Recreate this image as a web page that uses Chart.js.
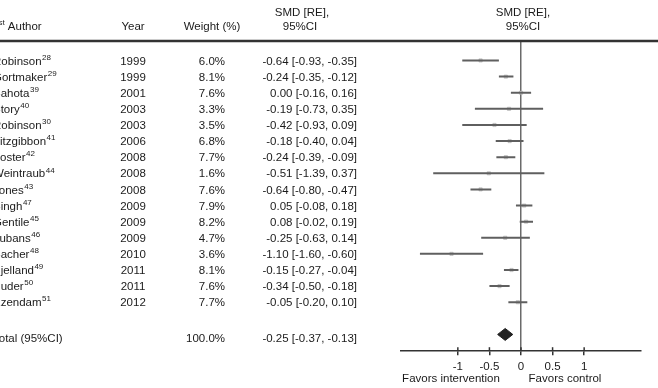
<!DOCTYPE html>
<html>
<head>
<meta charset="utf-8">
<script src="https://cdn.jsdelivr.net/npm/chart.js@4.4.0/dist/chart.umd.min.js"></script>
<style>
  html, body { margin: 0; padding: 0; background: #fff; }
  #wrap { width: 658px; height: 388px; }
</style>
</head>
<body>
<div id="wrap"><canvas id="forestChart" width="658" height="388"></canvas></div>
<script>
// Studies
const authors = ["Robinson", "Gortmaker", "Sahota", "Story", "Robinson", "Fitzgibbon", "Foster", "Weintraub",
  "Jones", "Singh", "Gentile", "Lubans", "Sacher", "Bjelland", "Puder", "Ezendam"];
const refs = [28, 29, 39, 40, 30, 41, 42, 44, 43, 47, 45, 46, 48, 49, 50, 51];
const years = [1999, 1999, 2001, 2003, 2003, 2006, 2008, 2008, 2008, 2009, 2009, 2009, 2010, 2011, 2011, 2012];
const weights = [6.0, 8.1, 7.6, 3.3, 3.5, 6.8, 7.7, 1.6, 7.6, 7.9, 8.2, 4.7, 3.6, 8.1, 7.6, 7.7];
const smd = [-0.64, -0.24, 0.00, -0.19, -0.42, -0.18, -0.24, -0.51, -0.64, 0.05, 0.08, -0.25, -1.10, -0.15, -0.34, -0.05];
const ciLow = [-0.93, -0.35, -0.16, -0.73, -0.93, -0.40, -0.39, -1.39, -0.80, -0.08, -0.02, -0.63, -1.60, -0.27, -0.50, -0.20];
const ciHigh = [-0.35, -0.12, 0.16, 0.35, 0.09, 0.04, -0.09, 0.37, -0.47, 0.18, 0.19, 0.14, -0.60, -0.04, -0.18, 0.10];

// Pooled result
const totalLabel = "Total (95%CI)";
const totalWeight = 100.0;
const totalSmd = -0.25;
const totalLow = -0.37;
const totalHigh = -0.13;
const totalRow = 17;

const xTicks = [-1, -0.5, 0, 0.5, 1];
const favorLabels = ["Favors intervention", "Favors control"];

const FONT = "'Liberation Sans', Arial, Helvetica, sans-serif";
const TEXT = "#1a1a1a";
const DIAMOND_H = 0.37; // half height of the pooled diamond, in row units

const fmt = v => v.toFixed(2);
const ciText = (m, l, h) => `${fmt(m)} [${fmt(l)}, ${fmt(h)}]`;

// author name with reference number as superscript
function drawAuthor(ctx, name, ref, x, y) {
  ctx.textAlign = "left";
  ctx.font = `11.5px ${FONT}`;
  ctx.fillText(name, x, y);
  const w = ctx.measureText(name).width;
  ctx.font = `8px ${FONT}`;
  ctx.fillText(String(ref), x + w + 0.5, y - 4);
  ctx.font = `11.5px ${FONT}`;
}

const tablePlugin = {
  id: "forestTable",
  beforeDraw(chart) {
    const { ctx } = chart;
    ctx.save();
    ctx.fillStyle = "#fff";
    ctx.fillRect(0, 0, chart.width, chart.height);
    ctx.restore();
  },
  afterDraw(chart) {
    const { ctx, chartArea } = chart;
    const xs = chart.scales.x, ys = chart.scales.y;
    ctx.save();
    ctx.fillStyle = TEXT;
    ctx.textBaseline = "middle";
    ctx.font = `11.5px ${FONT}`;

    // column headers
    ctx.textAlign = "left";
    ctx.fillText("1", -8, 27);
    let w1 = ctx.measureText("1").width;
    ctx.font = `8px ${FONT}`;
    ctx.fillText("st", -8 + w1, 23);
    let w2 = ctx.measureText("st").width;
    ctx.font = `11.5px ${FONT}`;
    ctx.fillText(" Author", -8 + w1 + w2, 27);
    ctx.textAlign = "center";
    ctx.fillText("Year", 133, 27);
    ctx.fillText("Weight (%)", 212, 27);
    ctx.fillText("SMD [RE],", 302, 13);
    ctx.fillText("95%CI", 300, 27);
    const zx = xs.getPixelForValue(0);
    ctx.fillText("SMD [RE],", zx + 2, 13);
    ctx.fillText("95%CI", zx + 2, 27);

    // header rule
    ctx.strokeStyle = "#333";
    ctx.lineWidth = 2.5;
    ctx.beginPath();
    ctx.moveTo(0, chartArea.top);
    ctx.lineTo(chart.width, chartArea.top);
    ctx.stroke();

    // study rows
    authors.forEach((a, i) => {
      const py = ys.getPixelForValue(i) + 1;
      drawAuthor(ctx, a, refs[i], -7, py);
      ctx.textAlign = "center";
      ctx.fillText(String(years[i]), 133, py);
      ctx.textAlign = "right";
      ctx.fillText(weights[i].toFixed(1) + "%", 225, py);
      ctx.fillText(ciText(smd[i], ciLow[i], ciHigh[i]), 357, py);
    });

    // total row
    const ty = ys.getPixelForValue(totalRow) + 4;
    ctx.textAlign = "left";
    ctx.fillText(totalLabel, -7, ty);
    ctx.textAlign = "right";
    ctx.fillText(totalWeight.toFixed(1) + "%", 225, ty);
    ctx.fillText(ciText(totalSmd, totalLow, totalHigh), 357, ty);

    // upper half of the axis tick marks
    ctx.strokeStyle = "#333";
    ctx.lineWidth = 1.5;
    xTicks.forEach(v => {
      const px = xs.getPixelForValue(v);
      ctx.beginPath();
      ctx.moveTo(px, chartArea.bottom - 4);
      ctx.lineTo(px, chartArea.bottom);
      ctx.stroke();
    });

    // direction labels under the axis
    ctx.textAlign = "center";
    ctx.fillText(favorLabels[0], zx - 70, 379);
    ctx.fillText(favorLabels[1], zx + 44, 379);
    ctx.restore();
  }
};

document.addEventListener("DOMContentLoaded", () => {
  const ctx = document.getElementById("forestChart").getContext("2d");

  // one line per confidence interval
  const ciSets = authors.map((a, i) => ({
    label: a,
    data: [{ x: ciLow[i], y: i }, { x: ciHigh[i], y: i }],
    showLine: true,
    borderColor: "#5f5f5f",
    borderWidth: 2,
    pointRadius: 0,
  }));

  const pointSet = {
    label: "SMD",
    data: smd.map((v, i) => ({ x: v, y: i })),
    pointStyle: "rect",
    pointRadius: 2.3,
    backgroundColor: "#cfcfcf",
    borderColor: "#a8a8a8",
    borderWidth: 0.5,
  };

  const diamondSet = {
    label: "Total",
    data: [
      { x: totalLow, y: totalRow },
      { x: totalSmd, y: totalRow - DIAMOND_H },
      { x: totalHigh, y: totalRow },
      { x: totalSmd, y: totalRow + DIAMOND_H },
      { x: totalLow, y: totalRow },
    ],
    showLine: true,
    fill: "shape",
    borderColor: "#222",
    backgroundColor: "#222",
    borderWidth: 1,
    pointRadius: 0,
  };

  new Chart(ctx, {
    type: "scatter",
    data: { datasets: [...ciSets, pointSet, diamondSet] },
    options: {
      responsive: false,
      animation: false,
      devicePixelRatio: 1,
      layout: { padding: { left: 401, right: 17, top: 41, bottom: 9 } },
      plugins: {
        legend: { display: false },
        tooltip: { enabled: false },
      },
      scales: {
        x: {
          type: "linear",
          min: -1.9,
          max: 1.9,
          afterBuildTicks: scale => { scale.ticks = xTicks.map(v => ({ value: v })); },
          border: { display: true, color: "#333", width: 1.5 },
          grid: {
            drawOnChartArea: true,
            drawTicks: true,
            tickLength: 4,
            color: c => (c.tick && c.tick.value === 0 ? "#6a6a6a" : "rgba(0,0,0,0)"),
            lineWidth: 1.5,
            tickColor: "#333",
            tickWidth: 1.5,
          },
          ticks: {
            padding: 5,
            color: TEXT,
            font: { family: FONT, size: 11.5 },
            callback: v => String(v),
          },
        },
        y: {
          type: "linear",
          display: false,
          reverse: true,
          min: -1.21,
          max: 18.04,
        },
      },
    },
    plugins: [tablePlugin],
  });
});
</script>
</body>
</html>
